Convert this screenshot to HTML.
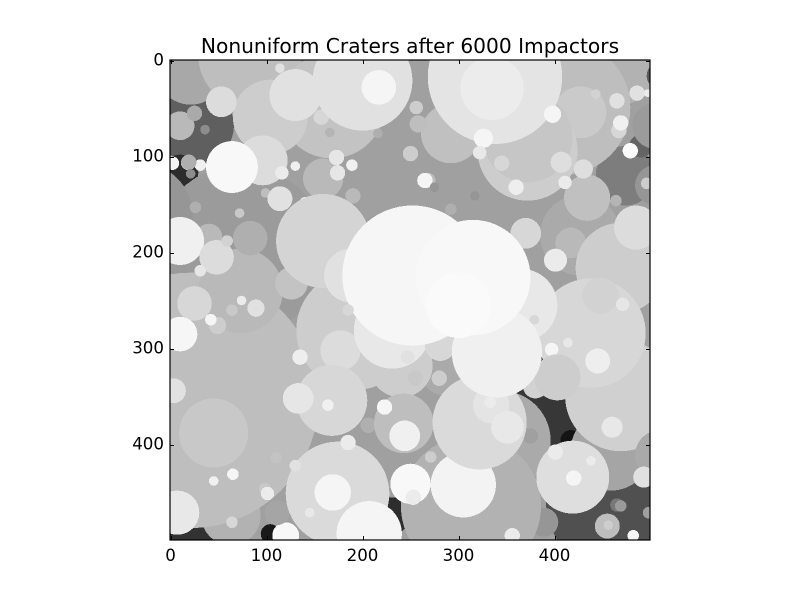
<!DOCTYPE html>
<html>
<head>
<meta charset="utf-8">
<title>Nonuniform Craters after 6000 Impactors</title>
<style>
html,body{margin:0;padding:0;background:#fff;}
svg{display:block;font-family:"DejaVu Sans",sans-serif;}
</style>
</head>
<body>
<svg id="chart" width="800" height="600" viewBox="0 0 800 600" xmlns="http://www.w3.org/2000/svg">
<rect x="0" y="0" width="800" height="600" fill="#ffffff"/>
<defs><clipPath id="plot-clip"><rect x="170" y="60" width="480" height="480"/></clipPath></defs>
<rect x="170" y="60" width="480" height="480" fill="#a0a0a0"/>
<g id="craters" clip-path="url(#plot-clip)" shape-rendering="crispEdges"></g>
<g id="ticks"></g>
<rect x="170" y="60" width="480" height="480" fill="none" stroke="#000" stroke-width="1.2"/>
<text x="410" y="53" text-anchor="middle" font-size="20.2" fill="#000">Nonuniform Craters after 6000 Impactors</text>
</svg>
<script>
var craterX = [
469,385,417,394,26,10,104,231,26,474,
459,73,-31,
490,469,510,505,505,427,344,375,286,21,83,
63,21,73,45,168,104,96,10,25,36,53,
130,114,157,166,216,200,217,159,190,26,
2,18,31,19,21,64,116,130,173,174,189,
99,114,141,72,83,40,10,48,31,59,
25,74,64,89,49,42,10,3,126,7,
64,65,45,110,98,101,120,
409,427,292,256,258,250,372,372,434,
338,335,398,326,322,345,360,411,407,430,
443,465,467,469,479,486,497,496,464,458,
268,265,275,317,292,417,469,485,370,401,
193,240,177,135,168,133,164,255,280,206,
243,223,244,111,174,169,145,185,130,207,
389,313,305,250,253,271,356,322,334,333,351,
469,438,448,471,460,445,397,414,380,403,
419,420,401,438,510,493,465,469,455,456,482,498,
159,188,231,281,365,379,340,252,315,300,185,247
];
var craterY = [
458,354,396,181,68,117,493,474,505,120,
406,198,161,
89,10,16,68,130,182,396,391,323,10,-5,
474,354,240,388,47,59,104,68,55,72,43,
36,8,59,75,76,21,28,123,141,153,
107,107,109,106,118,111,117,110,101,117,109,
138,144,149,159,185,184,188,205,219,188,
253,250,260,258,276,270,285,344,232,471,
481,431,438,414,446,451,495,
49,54,76,49,66,97,94,80,143,
17,29,56,81,96,107,132,127,106,113,
35,42,73,65,94,34,34,128,146,129,
125,125,132,141,155,190,216,174,180,208,
281,318,302,309,354,352,359,331,331,380,
378,361,391,471,451,450,471,398,422,493,
481,464,442,441,455,413,495,377,359,356,382,
349,284,245,254,382,313,301,294,339,330,
434,435,408,417,411,434,463,464,485,484,495,471,
188,224,281,297,255,270,304,224,226,255,260,309
];
var craterRadius = [
78,52,11,10,40,19,10,19,29,31,
42,89,54,
12,36,14,24,21,42,52,8,26,36,54,
31,133,44,36,55,39,26,15,8,5,16,
27,5,8,5,5,52,18,21,8,6,
7,7,6,8,5,27,7,5,8,8,6,
5,13,7,5,18,14,25,18,6,6,
18,5,6,9,9,6,18,13,17,23,
6,6,5,6,6,7,14,
70,27,31,7,9,8,52,47,24,
70,33,9,10,7,8,8,7,11,10,
5,8,8,8,8,8,4,6,6,4,
8,8,5,5,6,16,47,23,16,12,
62,33,21,8,37,16,6,8,8,8,
31,8,16,13,54,19,5,8,6,34,
15,73,34,21,8,6,8,49,19,6,17,
58,57,19,7,11,13,7,5,13,24,
38,8,8,5,26,11,7,6,13,5,6,6,
49,28,40,16,38,5,47,73,60,34,6,7
];
var craterShade = [
80,55,20,30,95,45,25,45,50,125,
165,155,150,
100,178,90,155,150,170,170,160,170,168,190,
178,190,185,200,195,205,220,185,170,140,220,
225,225,215,180,175,225,245,185,185,175,
245,245,240,175,140,248,235,240,230,230,240,
190,225,240,200,175,185,240,220,230,210,
215,235,200,225,205,245,246,225,195,232,
215,245,240,195,200,235,248,
190,202,192,205,190,205,205,198,192,
228,236,245,245,232,215,238,235,222,222,
210,225,215,240,250,225,235,205,180,125,
190,245,150,150,175,185,205,220,215,235,
205,205,220,238,215,230,240,200,205,175,
190,245,240,165,218,245,232,235,225,245,
150,178,243,248,235,205,235,218,228,235,232,
208,215,210,230,232,238,245,232,210,205,
222,245,235,235,170,225,120,155,190,205,245,160,
212,225,232,215,232,215,240,246,248,250,215,225
];
var xTickValues = [0,100,200,300,400];
var yTickValues = [0,100,200,300,400];
var xTickLabels = ["0","100","200","300","400"];
var yTickLabels = ["0","100","200","300","400"];

function xAxis(v){ return 170.5 + 0.96 * v; }
function yAxis(v){ return 60.5 + 0.96 * v; }
function radiusAxis(v){ return 0.96 * v; }
var NS = "http://www.w3.org/2000/svg";
var craterLayer = document.getElementById("craters");
var tickLayer = document.getElementById("ticks");

craterX.forEach(function(x, i){
  var el = document.createElementNS(NS, "circle");
  el.setAttribute("cx", xAxis(x));
  el.setAttribute("cy", yAxis(craterY[i]));
  el.setAttribute("r", radiusAxis(craterRadius[i]));
  var s = craterShade[i];
  el.setAttribute("fill", "rgb(" + s + "," + s + "," + s + ")");
  
  
  craterLayer.appendChild(el);
});

function tickLine(x1, y1, x2, y2){
  var el = document.createElementNS(NS, "line");
  el.setAttribute("x1", x1);
  el.setAttribute("y1", y1);
  el.setAttribute("x2", x2);
  el.setAttribute("y2", y2);
  el.setAttribute("stroke", "#000");
  el.setAttribute("stroke-width", "1");
  
  
  tickLayer.appendChild(el);
}

xTickValues.forEach(function(v, i){
  var px = Math.round(xAxis(v)) + 0.5;
  tickLine(px, 540, px, 536);
  tickLine(px, 60, px, 64);
  var t = document.createElementNS(NS, "text");
  t.setAttribute("x", xAxis(v));
  t.setAttribute("y", 561);
  t.setAttribute("text-anchor", "middle");
  t.setAttribute("font-size", "16.67");
  t.textContent = xTickLabels[i];
  
  
  tickLayer.appendChild(t);
});

yTickValues.forEach(function(v, i){
  var py = Math.round(yAxis(v)) + 0.5;
  tickLine(170, py, 174, py);
  tickLine(650, py, 646, py);
  var t = document.createElementNS(NS, "text");
  t.setAttribute("x", 164);
  t.setAttribute("y", yAxis(v) + 5);
  t.setAttribute("text-anchor", "end");
  t.setAttribute("font-size", "16.67");
  t.textContent = yTickLabels[i];
  
  
  tickLayer.appendChild(t);
});
</script>
</body>
</html>
